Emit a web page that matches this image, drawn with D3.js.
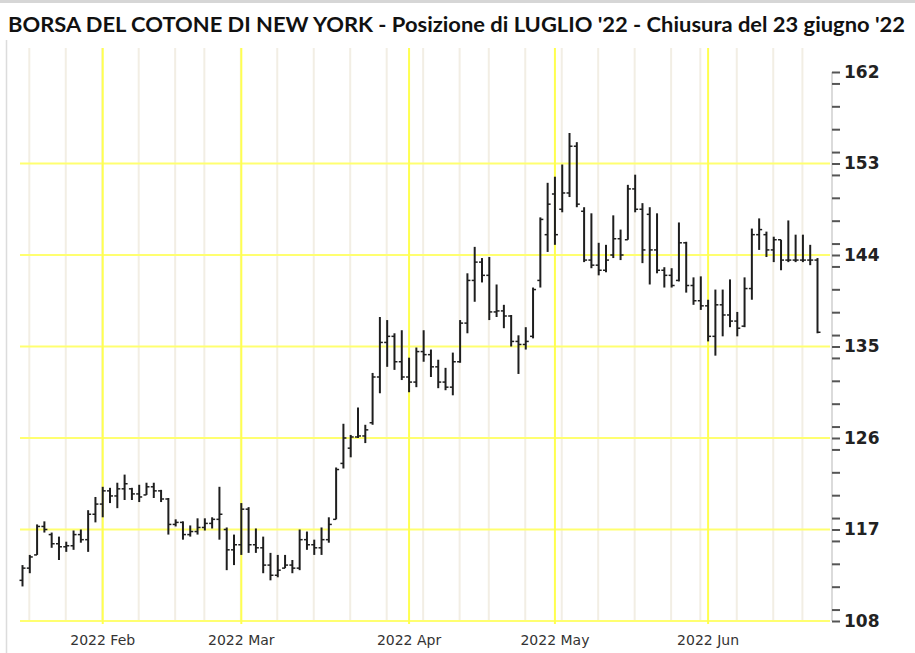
<!DOCTYPE html>
<html lang="it">
<head>
    <meta charset="UTF-8">
    <title>Cotone NY - Luglio '22</title>
    <script src="https://d3js.org/d3.v7.min.js"></script>
    <style>
        body { margin: 0; background: #fff; }
    </style>
</head>
<body>
<script>
    const width = 915;
    const height = 653;

    // sedute dal 14 gennaio al 23 giugno 2022 (weekend e festivi esclusi)
    const firstDay = "2022-01-14";
    const lastDay  = "2022-06-23";
    const holidays = ["2022-01-17", "2022-02-21", "2022-04-15", "2022-05-30", "2022-06-20"];

    const open = [
        112.0, 113.2, 114.5, 117.3, 116.5, 115.6, 115.3, 115.4, 116.5, 116.0,
        118.5, 119.5, 120.8, 120.3, 121.0, 121.0, 120.5, 120.4, 121.2, 120.8,
        120.0, 117.5, 117.7, 116.5, 116.8, 117.2, 117.6, 118.0, 117.0, 115.0,
        115.5, 119.0, 115.5, 115.2, 113.5, 112.5, 113.2, 113.5, 113.2, 116.0,
        115.5, 115.2, 116.0, 118.0, 123.5, 125.0, 126.1, 126.2, 127.5, 132.0,
        135.4, 136.0, 133.5, 132.0, 131.5, 134.5, 134.2, 133.0, 131.5, 131.0,
        133.5, 137.3, 141.5, 143.3, 142.0, 138.4, 138.5, 138.0, 135.5, 135.2,
        136.0, 141.5, 146.0, 150.0, 148.5, 150.1, 154.7, 148.3, 143.5, 143.0,
        142.5, 144.0, 145.6, 145.5, 150.5, 148.5, 148.0, 144.5, 142.5, 142.0,
        141.5, 145.2, 141.0, 139.5, 139.0, 136.0, 139.1, 138.1, 137.5, 137.0,
        140.7, 146.0, 146.0, 144.5, 145.5, 143.5, 143.5, 143.5, 143.5, 143.5
    ];
    const high = [
        113.5, 114.5, 117.5, 117.8, 116.7, 116.3, 115.8, 116.9, 117.0, 118.9,
        120.2, 121.2, 121.1, 121.6, 122.4, 121.1, 121.4, 121.6, 121.6, 120.9,
        120.1, 118.0, 117.8, 117.4, 118.1, 118.1, 118.2, 121.2, 117.2, 116.5,
        119.6, 119.2, 117.1, 116.3, 114.7, 114.5, 114.5, 114.0, 117.0, 116.8,
        116.0, 117.2, 118.2, 123.1, 127.4, 126.3, 129.0, 127.3, 132.4, 137.9,
        137.6, 136.3, 136.6, 133.9, 134.9, 136.6, 134.7, 133.7, 132.9, 134.4,
        137.6, 142.2, 144.8, 143.7, 143.8, 141.1, 139.1, 138.1, 136.1, 136.9,
        140.8, 147.7, 151.1, 151.7, 152.9, 156.0, 155.1, 148.7, 148.1, 145.2,
        145.0, 147.9, 146.5, 150.9, 151.9, 149.1, 148.7, 148.1, 142.8, 142.7,
        147.2, 145.3, 141.8, 141.9, 139.6, 140.6, 140.6, 141.6, 138.4, 141.8,
        146.6, 147.6, 146.3, 145.8, 145.5, 147.4, 146.0, 146.0, 145.0, 143.7
    ];
    const low = [
        111.4, 112.7, 114.5, 116.7, 115.2, 114.0, 114.8, 115.0, 115.7, 114.8,
        117.7, 118.2, 119.6, 119.1, 119.9, 119.9, 119.7, 120.4, 120.1, 119.7,
        116.5, 117.3, 116.0, 116.3, 116.5, 116.9, 117.1, 116.0, 113.0, 113.5,
        114.5, 114.7, 114.7, 112.7, 112.0, 112.3, 113.2, 112.7, 113.0, 115.0,
        114.5, 114.5, 115.7, 118.0, 123.0, 124.1, 126.0, 125.5, 127.3, 130.4,
        133.0, 132.7, 131.7, 130.5, 131.0, 133.5, 132.0, 130.9, 130.7, 130.2,
        133.4, 136.3, 139.4, 141.3, 137.6, 137.9, 136.8, 135.0, 132.3, 134.7,
        135.8, 140.8, 144.3, 145.0, 148.2, 149.7, 148.7, 143.3, 142.7, 142.0,
        142.3, 143.7, 143.5, 145.5, 148.2, 143.2, 141.1, 142.2, 140.8, 140.8,
        141.4, 140.3, 139.1, 138.6, 135.5, 134.1, 136.0, 136.9, 136.0, 136.9,
        139.6, 144.5, 143.8, 143.3, 142.5, 143.3, 143.3, 143.3, 143.0, 136.3
    ];
    const close = [
        113.2, 114.3, 117.3, 117.0, 115.6, 115.3, 115.4, 116.5, 116.0, 118.5,
        119.5, 120.8, 120.3, 121.0, 121.5, 120.5, 120.2, 121.2, 120.8, 120.0,
        117.5, 117.7, 116.5, 116.8, 117.2, 117.6, 118.0, 118.5, 115.0, 115.5,
        119.0, 115.5, 115.2, 113.5, 112.5, 113.0, 113.5, 113.2, 116.0, 115.5,
        115.2, 116.0, 117.5, 122.9, 126.0, 126.1, 126.2, 126.8, 132.0, 135.4,
        136.0, 133.5, 132.0, 131.5, 134.5, 134.2, 133.0, 131.5, 131.0, 133.5,
        137.3, 141.5, 143.3, 142.0, 138.4, 138.5, 138.0, 135.5, 135.2, 135.5,
        140.6, 147.5, 149.0, 146.0, 150.1, 154.7, 149.0, 143.5, 143.0, 142.5,
        143.5, 145.6, 144.0, 150.5, 148.5, 144.5, 144.5, 142.5, 142.0, 141.0,
        145.2, 141.0, 139.5, 139.0, 136.0, 139.1, 138.1, 137.5, 136.8, 140.7,
        146.0, 146.5, 144.5, 145.5, 143.5, 143.5, 143.5, 143.5, 143.5, 136.4
    ];

    const yTicks = [108, 117, 126, 135, 144, 153, 162];
    const monthLabels = ["2022 Feb", "2022 Mar", "2022 Apr", "2022 May", "2022 Jun"];
    const title = "BORSA DEL COTONE DI NEW YORK - Posizione di LUGLIO '22 - Chiusura del 23 giugno '22";

    // calendario delle sedute
    const fmt = d3.timeFormat("%Y-%m-%d");
    const parse = d3.timeParse("%Y-%m-%d");
    const dates = d3.timeDay.range(parse(firstDay), d3.timeDay.offset(parse(lastDay), 1))
            .filter(d => d.getDay() !== 0 && d.getDay() !== 6 && !holidays.includes(fmt(d)));

    const bars = dates.map((d, i) => ({i: i, date: d, o: open[i], h: high[i], l: low[i], c: close[i]}));

    const plot = {left: 20, right: 830, top: 48, bottom: 621};

    const x = d3.scalePoint()
            .domain(d3.range(dates.length))
            .range([22.5, 817.5]);

    const y = d3.scaleLinear()
            .domain([108, 162])
            .range([621, 72]);

    const svg = d3.select("body").append("svg")
            .attr("width", width).attr("height", height)
            .style("font-family", "'DejaVu Sans', sans-serif");

    // cornice
    svg.append("line")
            .attr("x1", 0).attr("x2", width).attr("y1", 1.5).attr("y2", 1.5)
            .style("stroke", "#d6d6d6").style("stroke-width", 3);
    svg.append("line")
            .attr("x1", 6.5).attr("x2", 6.5).attr("y1", 40).attr("y2", height)
            .style("stroke", "#dcdcdc").style("stroke-width", 1.5);

    svg.append("text")
            .attr("x", 8).attr("y", 32)
            .attr("textLength", 897).attr("lengthAdjust", "spacingAndGlyphs")
            .style("font-family", "Lato, 'Open Sans', sans-serif")
            .style("font-weight", "bold")
            .style("font-size", "20px")
            .style("fill", "#111")
            .text(title);

    // griglia settimanale (martedi)
    const weekIdx = bars.filter(b => b.date.getDay() === 2).map(b => b.i);
    svg.append("g").attr("class", "weeks")
            .selectAll("line").data(weekIdx).enter().append("line")
            .attr("x1", d => x(d) - 0.5).attr("x2", d => x(d) - 0.5)
            .attr("y1", plot.top).attr("y2", plot.bottom)
            .style("stroke", "#f2eee4").style("stroke-width", 2);

    // griglia orizzontale
    svg.append("g").attr("class", "hgrid")
            .selectAll("line").data(yTicks.filter(v => v < 162)).enter().append("line")
            .attr("x1", plot.left).attr("x2", plot.right)
            .attr("y1", d => y(d)).attr("y2", d => y(d))
            .style("stroke", "#ffff70").style("stroke-width", 2);

    // inizio mese
    const monthIdx = bars.filter((b, k) => k > 0 && b.date.getMonth() !== bars[k - 1].date.getMonth()).map(b => b.i);
    svg.append("g").attr("class", "months")
            .selectAll("line").data(monthIdx).enter().append("line")
            .attr("x1", d => x(d)).attr("x2", d => x(d))
            .attr("y1", plot.top).attr("y2", plot.bottom + 3)
            .style("stroke", "#ffff50").style("stroke-width", 2);

    svg.append("g").attr("class", "month-labels")
            .selectAll("text").data(monthIdx).enter().append("text")
            .attr("x", d => x(d)).attr("y", 645)
            .attr("text-anchor", "middle")
            .style("font-size", "14px")
            .style("fill", "#333")
            .text((d, k) => monthLabels[k]);

    // barre OHLC
    const g = svg.append("g").attr("class", "ohlc")
            .style("stroke", "#1e1e1e");

    const bar = g.selectAll("g").data(bars).enter().append("g");

    bar.append("line")
            .attr("x1", d => x(d.i)).attr("x2", d => x(d.i))
            .attr("y1", d => y(d.h)).attr("y2", d => y(d.l))
            .style("stroke-width", 2);
    bar.append("line")
            .attr("x1", d => x(d.i) - 3).attr("x2", d => x(d.i))
            .attr("y1", d => y(d.o)).attr("y2", d => y(d.o))
            .style("stroke-width", 1.5);
    bar.append("line")
            .attr("x1", d => x(d.i)).attr("x2", d => x(d.i) + 3)
            .attr("y1", d => y(d.c)).attr("y2", d => y(d.c))
            .style("stroke-width", 1.5);

    // asse destro
    const minorTicks = d3.range(162 - 1.125, 108, -2.25);
    const axis = svg.append("g").attr("class", "y-axis")
            .attr("transform", "translate(832,0)");

    axis.append("line")
            .attr("y1", y(162)).attr("y2", y(108))
            .style("stroke", "#cfcfcf").style("stroke-width", 1.5);

    axis.append("g")
            .call(d3.axisRight(y).tickValues(minorTicks).tickSize(8).tickFormat(""))
            .call(a => a.select(".domain").remove())
            .selectAll("line").style("stroke", "#555").style("stroke-width", 2);

    const major = axis.append("g")
            .call(d3.axisRight(y).tickValues(yTicks).tickSize(8).tickPadding(4).tickFormat(d3.format("d")))
            .call(a => a.select(".domain").remove());
    major.selectAll("line").style("stroke", "#555").style("stroke-width", 2);
    major.selectAll("text")
            .style("font-family", "'DejaVu Sans', sans-serif")
            .style("font-weight", "bold")
            .style("font-size", "17px")
            .style("fill", "#222");
</script>
</body>
</html>
